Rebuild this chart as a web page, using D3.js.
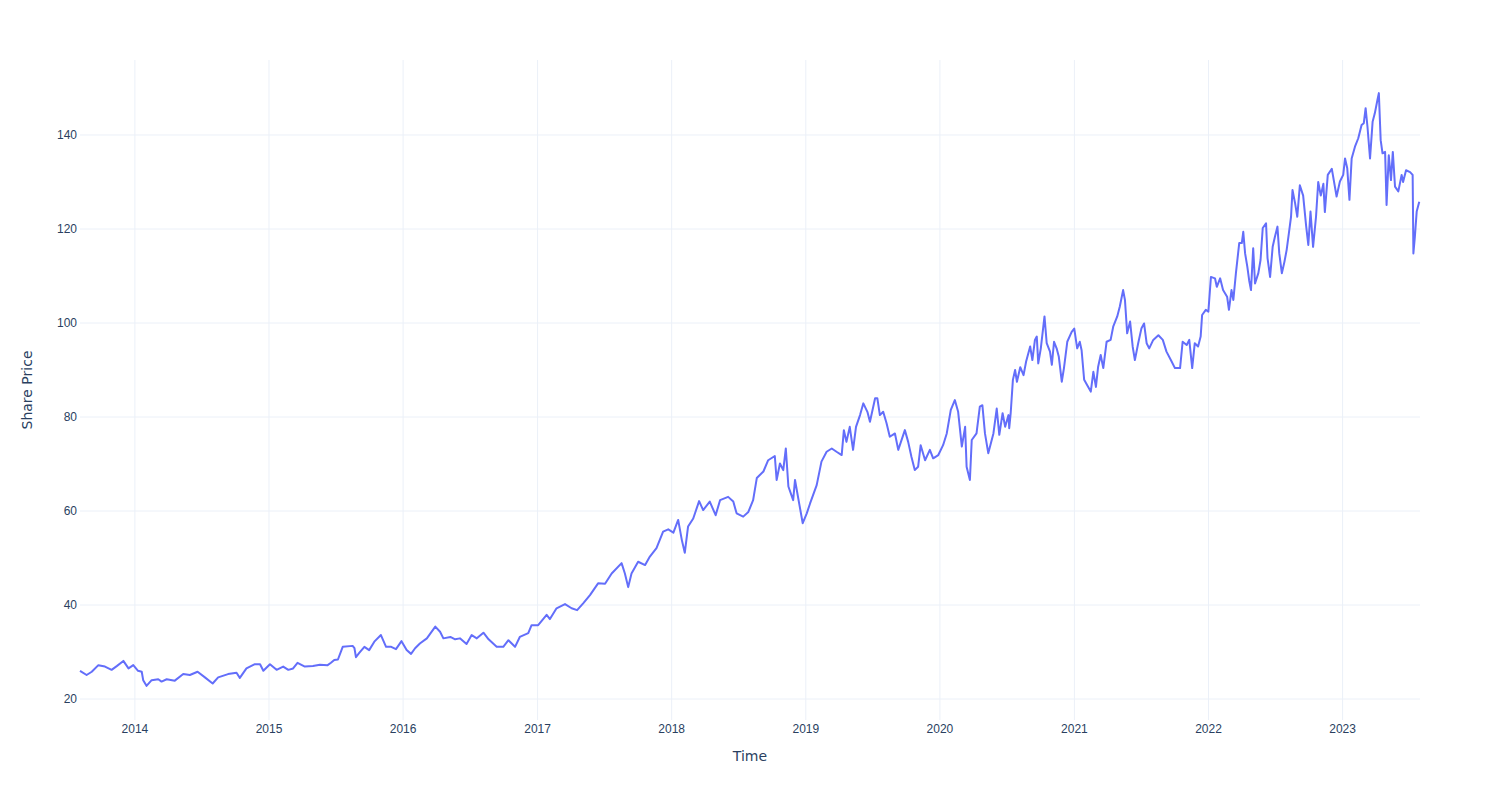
<!DOCTYPE html>
<html>
<head>
<meta charset="utf-8">
<script src="https://cdn.jsdelivr.net/npm/d3@7"></script>
<style>
  body { margin: 0; background: #fff; }
  svg { font-family: "DejaVu Sans", verdana, arial, sans-serif; }
  .grid line { stroke: #ebf0f8; stroke-width: 1; }
  .tick text { fill: #2a3f5f; font-size: 12px; }
</style>
</head>
<body>
<svg width="1500" height="800"></svg>
<script>
// data (dates / closing share price)
var dates = [
  '2013-08-06','2013-08-24','2013-09-07','2013-09-25','2013-10-13','2013-10-31','2013-11-14','2013-12-02','2013-12-16','2013-12-29',
  '2014-01-11','2014-01-21','2014-01-25','2014-02-03','2014-02-17','2014-03-07','2014-03-16','2014-03-30','2014-04-21','2014-05-14',
  '2014-06-01','2014-06-22','2014-07-12','2014-08-02','2014-08-17','2014-09-13','2014-10-06','2014-10-15','2014-11-02','2014-11-25',
  '2014-12-09','2014-12-18',
  '2015-01-05','2015-01-23','2015-02-10','2015-02-24','2015-03-09','2015-03-21','2015-04-10','2015-05-02','2015-05-21','2015-06-11',
  '2015-06-20','2015-06-29',
  '2015-07-09','2015-07-22','2015-08-18','2015-08-23','2015-08-27','2015-09-05','2015-09-19','2015-10-02','2015-10-16','2015-11-03',
  '2015-11-17','2015-12-01','2015-12-14','2015-12-29',
  '2016-01-12','2016-01-24','2016-02-04','2016-02-17','2016-03-07','2016-03-30','2016-04-12','2016-04-21','2016-05-10','2016-05-23',
  '2016-06-05','2016-06-23','2016-07-07','2016-07-21','2016-08-08','2016-08-22','2016-09-13','2016-10-01','2016-10-15','2016-11-02',
  '2016-11-15','2016-12-08','2016-12-17',
  '2017-01-04','2017-01-27','2017-02-05','2017-02-23','2017-03-18','2017-04-05','2017-04-20','2017-05-07','2017-05-25','2017-06-16',
  '2017-07-05','2017-07-23','2017-08-19','2017-08-28','2017-09-06','2017-09-15','2017-10-03','2017-10-22','2017-11-04','2017-11-22',
  '2017-12-10','2017-12-24',
  '2018-01-07','2018-01-20','2018-01-30','2018-02-07','2018-02-16','2018-03-02','2018-03-18','2018-03-29','2018-04-16','2018-05-02',
  '2018-05-14','2018-06-05','2018-06-19','2018-06-28','2018-07-16','2018-07-30','2018-08-12','2018-08-22','2018-09-09','2018-09-22',
  '2018-10-10','2018-10-15','2018-10-24','2018-11-02','2018-11-09','2018-11-16','2018-11-29','2018-12-04','2018-12-16','2018-12-25',
  '2019-01-05','2019-01-14','2019-02-01','2019-02-14','2019-02-28','2019-03-14','2019-03-27','2019-04-10','2019-04-16','2019-04-23',
  '2019-05-02','2019-05-11','2019-05-19','2019-05-30','2019-06-08','2019-06-19','2019-06-26','2019-07-10','2019-07-16','2019-07-23',
  '2019-08-01','2019-08-10','2019-08-19','2019-09-02','2019-09-11','2019-09-29','2019-10-08','2019-10-17','2019-10-26','2019-11-04',
  '2019-11-11','2019-11-23','2019-12-06','2019-12-15','2019-12-29',
  '2020-01-11','2020-01-21','2020-02-01','2020-02-12','2020-02-21','2020-03-02','2020-03-11','2020-03-15','2020-03-24','2020-03-29',
  '2020-04-11','2020-04-20','2020-04-27','2020-05-04','2020-05-13','2020-05-27','2020-06-05','2020-06-12','2020-06-21','2020-06-28',
  '2020-07-07','2020-07-09','2020-07-13','2020-07-19','2020-07-25','2020-07-30','2020-08-08','2020-08-17','2020-08-24','2020-09-04',
  '2020-09-10','2020-09-17','2020-09-22','2020-09-26','2020-10-03','2020-10-13','2020-10-19','2020-10-28','2020-11-02','2020-11-08',
  '2020-11-15','2020-11-21','2020-11-29','2020-12-05','2020-12-14','2020-12-26',
  '2021-01-02','2021-01-10','2021-01-17','2021-01-22','2021-01-29','2021-02-09','2021-02-16','2021-02-23','2021-03-02','2021-03-08',
  '2021-03-15','2021-03-22','2021-03-31','2021-04-11','2021-04-18','2021-04-29','2021-05-06','2021-05-15','2021-05-20','2021-05-26',
  '2021-06-03','2021-06-10','2021-06-16','2021-06-25','2021-07-04','2021-07-11','2021-07-18','2021-07-25','2021-08-05','2021-08-19',
  '2021-08-31','2021-09-10','2021-09-24','2021-10-03','2021-10-17','2021-10-24','2021-11-04','2021-11-11','2021-11-19','2021-11-26',
  '2021-12-05','2021-12-12','2021-12-16','2021-12-26',
  '2022-01-02','2022-01-09','2022-01-20','2022-01-25','2022-02-03','2022-02-11','2022-02-22','2022-02-27','2022-03-06','2022-03-11',
  '2022-03-18','2022-03-27','2022-04-03','2022-04-07','2022-04-12','2022-04-18','2022-04-23','2022-04-28','2022-05-04','2022-05-09',
  '2022-05-18','2022-05-24','2022-05-30','2022-06-08','2022-06-12','2022-06-19','2022-06-26','2022-07-02','2022-07-09','2022-07-14',
  '2022-07-21','2022-07-28','2022-08-03','2022-08-09','2022-08-15','2022-08-19','2022-08-26','2022-09-01','2022-09-08','2022-09-17',
  '2022-09-25','2022-10-01','2022-10-07','2022-10-14','2022-10-22','2022-10-28','2022-11-04','2022-11-11','2022-11-15','2022-11-23',
  '2022-12-04','2022-12-17','2022-12-26',
  '2023-01-04','2023-01-09','2023-01-15','2023-01-21','2023-01-27','2023-02-05','2023-02-14','2023-02-23','2023-03-01','2023-03-06',
  '2023-03-11','2023-03-18','2023-03-25','2023-03-31','2023-04-07','2023-04-11','2023-04-16','2023-04-21','2023-04-28','2023-05-02',
  '2023-05-08','2023-05-14','2023-05-19','2023-05-25','2023-06-03','2023-06-12','2023-06-16','2023-06-24','2023-07-05','2023-07-12',
  '2023-07-14','2023-07-18','2023-07-23','2023-07-30'
];
var prices = [
  25.9,25.0,25.7,27.1,26.8,26.1,26.9,28.0,26.4,27.1,
  25.9,25.7,23.9,22.7,23.9,24.1,23.6,24.1,23.8,25.2,
  25.0,25.7,24.5,23.2,24.5,25.2,25.5,24.4,26.4,27.3,
  27.3,25.9,
  27.3,26.1,26.8,26.1,26.4,27.6,26.8,26.9,27.2,27.1,
  27.6,28.2,
  28.3,31.0,31.2,30.7,28.8,29.7,31.0,30.3,32.1,33.5,
  31.0,31.0,30.5,32.2,
  30.3,29.5,30.7,31.7,32.8,35.3,34.2,32.8,33.1,32.6,
  32.8,31.6,33.5,32.8,34.0,32.6,31.0,31.0,32.4,31.0,
  33.1,33.9,35.6,
  35.6,37.8,36.9,39.2,40.1,39.2,38.8,40.3,42.0,44.5,
  44.4,46.6,48.8,46.6,43.7,46.6,49.1,48.4,50.2,52.0,
  55.5,56.0,
  55.3,58.0,53.7,51.0,56.6,58.3,62.0,60.1,61.9,59.0,
  62.2,62.9,61.9,59.4,58.7,59.7,62.2,66.9,68.3,70.7,
  71.6,66.5,70.0,68.6,73.2,65.1,62.2,66.5,61.2,57.3,
  59.4,61.5,65.4,70.4,72.5,73.2,72.5,71.8,77.1,74.6,
  77.8,72.9,77.8,80.3,82.8,81.0,78.9,83.9,83.9,80.3,
  81.0,78.6,75.7,76.4,72.9,77.1,74.6,71.4,68.6,69.3,
  73.9,70.7,72.9,71.1,71.8,
  73.9,76.4,81.4,83.5,81.0,73.6,77.8,69.3,66.5,75.0,
  76.4,82.1,82.4,76.4,72.2,76.4,81.7,76.1,80.7,77.8,
  80.3,77.5,80.7,87.8,89.9,87.4,90.5,88.8,91.7,94.9,
  92.0,96.3,97.0,91.3,94.5,101.3,95.6,93.8,91.0,95.9,
  94.5,92.7,87.4,90.3,95.9,98.0,
  98.7,94.5,95.9,94.1,87.8,86.3,85.3,89.5,86.3,90.6,
  93.1,90.3,95.9,96.3,99.1,101.3,103.4,106.9,104.8,97.7,
  100.2,94.9,92.0,95.6,98.8,99.8,95.6,94.5,96.3,97.3,
  96.3,93.8,91.7,90.3,90.3,95.9,95.2,96.3,90.3,95.6,
  94.9,97.0,101.6,102.7,
  102.3,109.7,109.4,107.6,109.4,106.9,105.5,102.7,106.9,104.8,
  110.5,116.9,116.9,119.3,114.7,111.9,109.0,106.9,115.8,108.3,
  110.5,113.3,120.1,121.1,113.7,109.7,116.1,118.2,120.4,114.7,
  110.5,112.9,115.4,118.9,122.5,128.2,125.4,122.5,129.2,127.0,
  120.6,116.5,123.6,116.1,122.5,129.9,127.0,129.5,123.5,131.4,
  132.7,126.8,130.0,
  131.4,134.9,132.8,126.1,134.9,137.4,139.2,142.0,142.4,145.6,
  141.7,134.9,142.7,144.5,147.3,148.8,138.8,136.0,136.3,125.0,
  135.6,130.3,136.3,128.9,127.9,131.4,129.9,132.4,132.0,131.4,
  114.7,118.2,123.6,125.7
];
var yTicks = [20, 40, 60, 80, 100, 120, 140];
var xTickYears = [2014, 2015, 2016, 2017, 2018, 2019, 2020, 2021, 2022, 2023];

var svg = d3.select('svg');
var padding = {t: 60, r: 80, b: 80, l: 80};
var width = +svg.attr('width') - padding.l - padding.r;
var height = +svg.attr('height') - padding.t - padding.b;

var parseDate = d3.timeParse('%Y-%m-%d');
var data = dates.map(function(d, i) {
    return {date: parseDate(d), price: prices[i]};
});

var xScale = d3.scaleTime()
    .domain([parseDate('2013-08-06'), parseDate('2023-08-01')])
    .range([0, width]);
var yScale = d3.scaleLinear()
    .domain([15.43, 155.85])
    .range([height, 0]);

var chartG = svg.append('g')
    .attr('transform', 'translate(' + [padding.l, padding.t] + ')');

// gridlines
var xAxis = chartG.append('g')
    .attr('class', 'grid x')
    .attr('transform', 'translate(' + [0, height] + ')')
    .call(d3.axisBottom(xScale)
        .tickValues(xTickYears.map(function(y) { return new Date(y, 0, 1); }))
        .tickFormat(d3.timeFormat('%Y'))
        .tickSize(height)
        .tickPadding(0));
xAxis.select('.domain').remove();
xAxis.selectAll('.tick line').attr('transform', 'translate(0,' + (-height) + ')');
xAxis.selectAll('.tick text').attr('y', 13).attr('dy', '0');

var yAxis = chartG.append('g')
    .attr('class', 'grid y')
    .call(d3.axisLeft(yScale)
        .tickValues(yTicks)
        .tickSize(-width)
        .tickPadding(3));
yAxis.select('.domain').remove();
yAxis.selectAll('.tick text').attr('x', -3);

var line = d3.line()
    .x(function(d) { return xScale(d.date); })
    .y(function(d) { return yScale(d.price); });

chartG.append('path')
    .datum(data)
    .attr('fill', 'none')
    .attr('stroke', '#636efa')
    .attr('stroke-width', 2)
    .attr('stroke-linejoin', 'round')
    .attr('d', line);

// axis titles
svg.append('text')
    .attr('x', padding.l + width / 2)
    .attr('y', 761)
    .attr('text-anchor', 'middle')
    .attr('fill', '#2a3f5f')
    .style('font-size', '14px')
    .text('Time');
svg.append('text')
    .attr('transform', 'translate(' + [32, padding.t + height / 2] + ')rotate(-90)')
    .attr('text-anchor', 'middle')
    .attr('fill', '#2a3f5f')
    .style('font-size', '14px')
    .text('Share Price');
</script>
</body>
</html>
